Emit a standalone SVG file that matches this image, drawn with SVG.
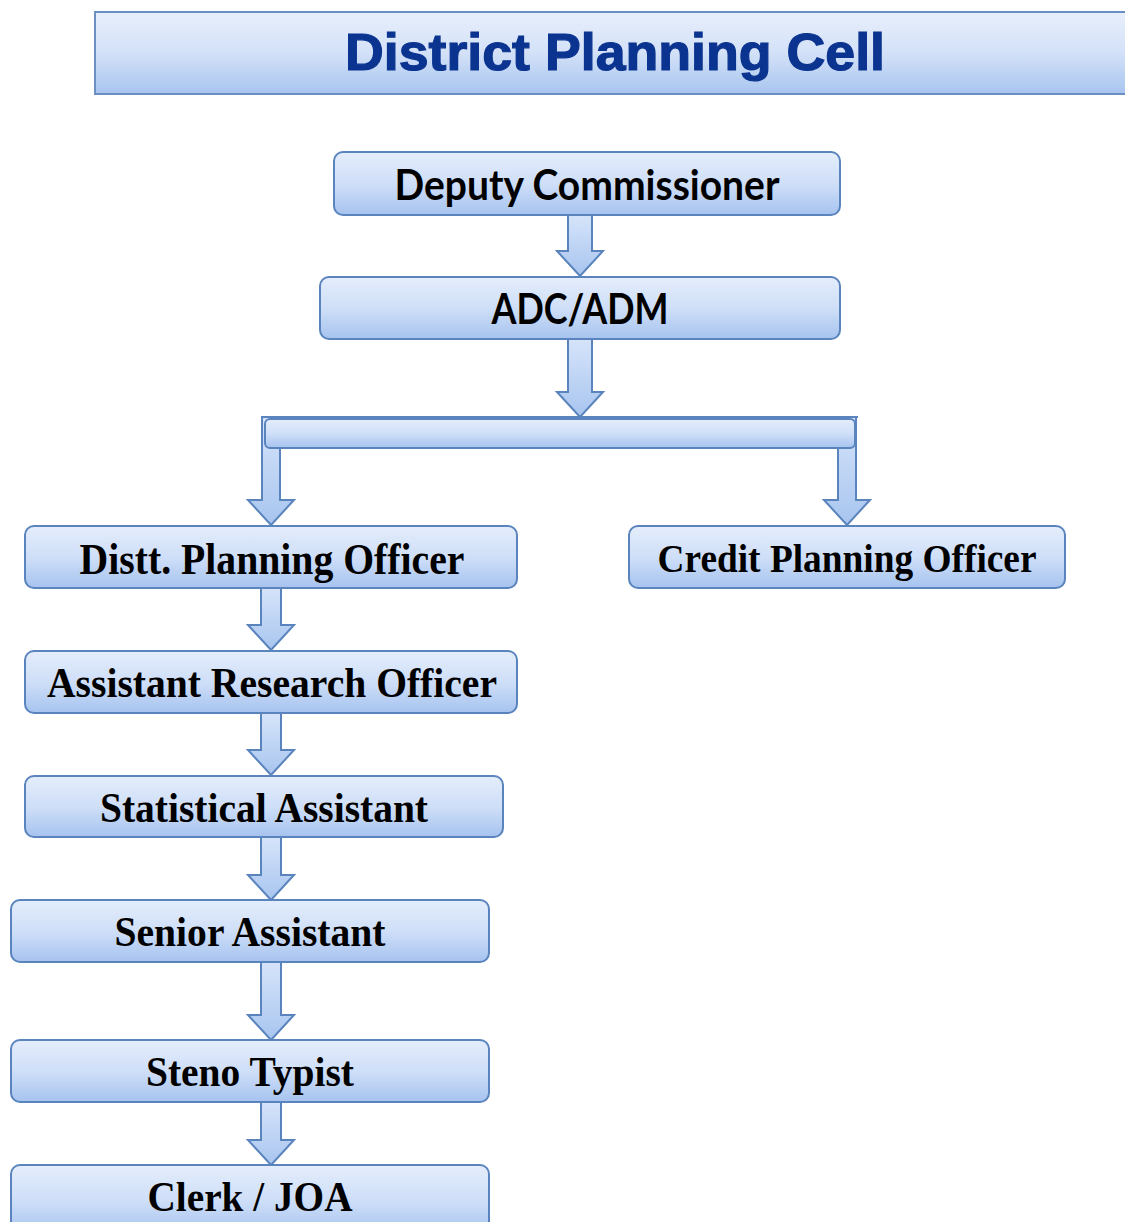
<svg xmlns="http://www.w3.org/2000/svg" width="1125" height="1222" viewBox="0 0 1125 1222">
<defs>
<linearGradient id="gBox" x1="0" y1="0" x2="0" y2="1">
<stop offset="0" stop-color="#e4edfb"/>
<stop offset="0.5" stop-color="#cfdff8"/>
<stop offset="1" stop-color="#a6c3ef"/>
</linearGradient>
<linearGradient id="gTitle" x1="0" y1="0" x2="0" y2="1">
<stop offset="0" stop-color="#e8effb"/>
<stop offset="0.5" stop-color="#d3e1f8"/>
<stop offset="1" stop-color="#a8c5ef"/>
</linearGradient>
<linearGradient id="gArrow" x1="0" y1="0" x2="0" y2="1">
<stop offset="0" stop-color="#d6e4fa"/>
<stop offset="1" stop-color="#a8c5ef"/>
</linearGradient>
<style>
.box{fill:url(#gBox);stroke:#5a84bd;stroke-width:2}
.arr{fill:url(#gArrow);stroke:#5a84bd;stroke-width:2;stroke-linejoin:miter}
.cal{font-family:Lato,"Open Sans","Liberation Sans",sans-serif;font-weight:bold;fill:#000;text-anchor:middle}
.tms{font-family:"Liberation Serif","Times New Roman",serif;font-weight:bold;fill:#000;text-anchor:middle}
.ttl{font-family:"Liberation Sans",Arial,sans-serif;font-weight:bold;fill:#0b3490;stroke:#0b3490;stroke-width:1.2;text-anchor:middle}
</style>
</defs>
<rect width="1125" height="1222" fill="#fff"/>

<g id="title">
<rect x="95" y="12" width="1045" height="82" fill="url(#gTitle)" stroke="#6a8fc2" stroke-width="2"/>
<text class="ttl" x="615" y="70" font-size="52" textLength="540" lengthAdjust="spacingAndGlyphs">District Planning Cell</text>
</g>

<g id="connectors">
<path class="arr" d="M568,215 V251 H557 L580,276 L603,251 H592 V215 Z"/>
<path class="arr" d="M568,339 V392 H557 L580,417 L603,392 H592 V339 Z"/>
<path class="arr" d="M262,417 V500 H248 L271,525 L294,500 H280 V417 Z"/>
<path class="arr" d="M838,417 V500 H824 L847,525 L870,500 H856 V417 Z"/>
<path class="arr" d="M262,417 H858" fill="none"/>
<rect id="bar" class="box" x="265" y="419" width="590" height="29" rx="5"/>
<path class="arr" d="M261,588 V625 H248 L271,650 L294,625 H281 V588 Z"/>
<path class="arr" d="M261,713 V750 H248 L271,775 L294,750 H281 V713 Z"/>
<path class="arr" d="M261,837 V875 H248 L271,900 L294,875 H281 V837 Z"/>
<path class="arr" d="M261,962 V1015 H248 L271,1040 L294,1015 H281 V962 Z"/>
<path class="arr" d="M261,1102 V1140 H248 L271,1165 L294,1140 H281 V1102 Z"/>
</g>

<g id="deputy-commissioner">
<rect class="box" x="334" y="152" width="506" height="63" rx="9"/>
<text class="cal" x="587" y="200" font-size="42" textLength="385" lengthAdjust="spacingAndGlyphs">Deputy Commissioner</text>
</g>

<g id="adc-adm">
<rect class="box" x="320" y="277" width="520" height="62" rx="9"/>
<text class="cal" x="580" y="324" font-size="42" textLength="177" lengthAdjust="spacingAndGlyphs">ADC/ADM</text>
</g>

<g id="distt-planning-officer">
<rect class="box" x="25" y="526" width="492" height="62" rx="9"/>
<text class="tms" x="272" y="574" font-size="44" textLength="385" lengthAdjust="spacingAndGlyphs">Distt. Planning Officer</text>
</g>

<g id="credit-planning-officer">
<rect class="box" x="629" y="526" width="436" height="62" rx="9"/>
<text class="tms" x="847" y="572" font-size="40" textLength="379" lengthAdjust="spacingAndGlyphs">Credit Planning Officer</text>
</g>

<g id="assistant-research-officer">
<rect class="box" x="25" y="651" width="492" height="62" rx="9"/>
<text class="tms" x="272" y="697" font-size="42" textLength="450" lengthAdjust="spacingAndGlyphs">Assistant Research Officer</text>
</g>

<g id="statistical-assistant">
<rect class="box" x="25" y="776" width="478" height="61" rx="9"/>
<text class="tms" x="264" y="822" font-size="42" textLength="328" lengthAdjust="spacingAndGlyphs">Statistical Assistant</text>
</g>

<g id="senior-assistant">
<rect class="box" x="11" y="900" width="478" height="62" rx="9"/>
<text class="tms" x="250" y="946" font-size="42" textLength="271" lengthAdjust="spacingAndGlyphs">Senior Assistant</text>
</g>

<g id="steno-typist">
<rect class="box" x="11" y="1040" width="478" height="62" rx="9"/>
<text class="tms" x="250" y="1086" font-size="42" textLength="208" lengthAdjust="spacingAndGlyphs">Steno Typist</text>
</g>

<g id="clerk-joa">
<rect class="box" x="11" y="1165" width="478" height="70" rx="9"/>
<text class="tms" x="250" y="1211" font-size="42" textLength="205" lengthAdjust="spacingAndGlyphs">Clerk / JOA</text>
</g>
</svg>
